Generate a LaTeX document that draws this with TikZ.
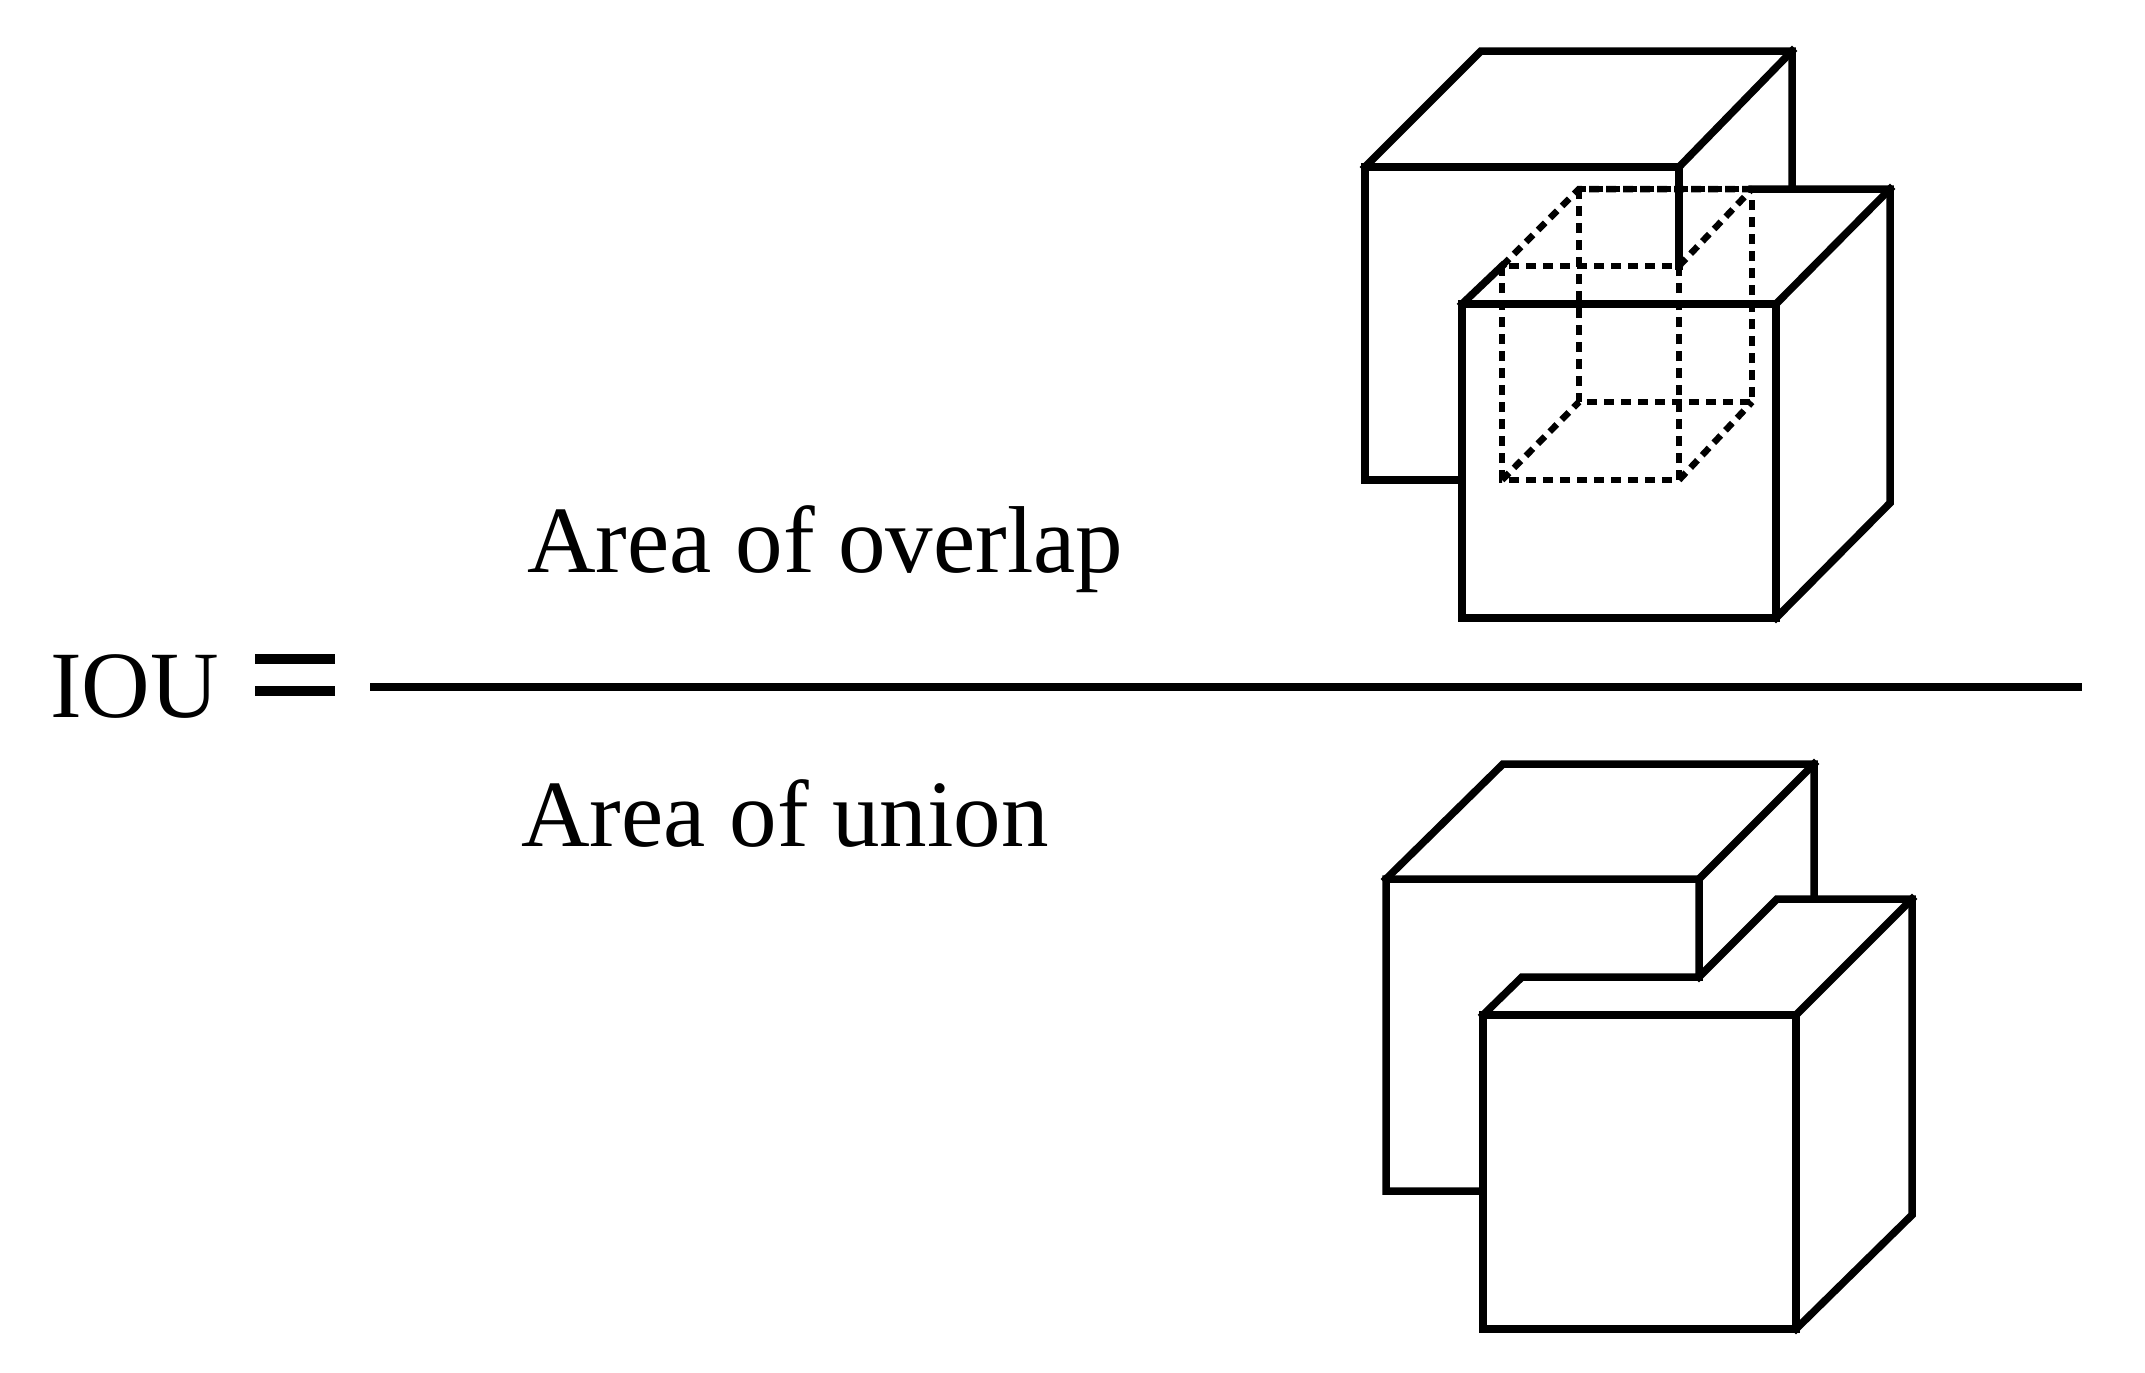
\documentclass[tikz,border=0pt]{standalone}
\usepackage{fontspec}
\setmainfont{Liberation Serif}
\begin{document}
\begin{tikzpicture}[x=1pt,y=-1pt,
  edge/.style={line width=7.5pt,line join=miter,line cap=rect},
  hid/.style={line width=6.5pt,dash pattern=on 10pt off 7pt},
  bar/.style={line width=10pt},
  lbl/.style={anchor=base west,inner sep=0pt,font=\fontsize{95}{110}\selectfont}]
\useasboundingbox (0,0) rectangle (2145,1373);
% text
\node[lbl] (num) at (527,572) {Area of overlap};
\node[lbl] (den) at (521,846) {Area of union};
\node[lbl] (iou) at (50,717) {IOU};
% equals sign
\coordinate (e1a) at (255,659); \coordinate (e1b) at (335,659);
\coordinate (e2a) at (255,691); \coordinate (e2b) at (335,691);
\draw[bar] (e1a) -- (e1b);
\draw[bar] (e2a) -- (e2b);
\coordinate (la) at (370,687);
\coordinate (lb) at (2082,687);
\draw[line width=8pt] (la) -- (lb);
% top: overlap
\draw[edge] (1462,480) -- (1365,480) -- (1365,167) -- (1679,167) -- (1679,266);
\draw[edge] (1365,167) -- (1481,51) -- (1792,51) -- (1792,189);
\draw[edge] (1679,167) -- (1792,51);
\draw[edge] (1462,304) rectangle (1776,618);
\draw[edge] (1462,304) -- (1502,266);
\draw[edge] (1752,189) -- (1890,189) -- (1890,503) -- (1776,618);
\draw[edge] (1776,304) -- (1890,189);
\draw[hid] (1502,266) -- (1579,189) -- (1752,189);
\draw[hid] (1502,266) rectangle (1679,480);
\draw[hid] (1579,189) rectangle (1752,402);
\draw[hid] (1679,266) -- (1752,189);
\draw[hid] (1502,480) -- (1579,402);
\draw[hid] (1679,480) -- (1752,402);
% bottom: union
\draw[edge] (1483,1191) -- (1386,1191) -- (1386,879) -- (1699,879) -- (1699,977) -- (1522,977) -- (1483,1015);
\draw[edge] (1386,879) -- (1503,764) -- (1814,764) -- (1814,899);
\draw[edge] (1699,879) -- (1814,764);
\draw[edge] (1699,977) -- (1777,899) -- (1912,899) -- (1912,1215) -- (1796,1329);
\draw[edge] (1483,1015) rectangle (1796,1329);
\draw[edge] (1796,1015) -- (1912,899);
\end{tikzpicture}
\end{document}
